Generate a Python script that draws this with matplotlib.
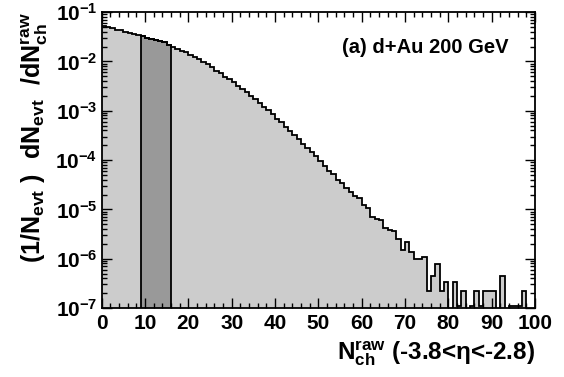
import numpy as np
import matplotlib
matplotlib.use("Agg")
import matplotlib.pyplot as plt
from matplotlib.ticker import MultipleLocator, LogLocator, FuncFormatter, NullFormatter

plt.rcParams['font.family'] = ['Liberation Sans', 'DejaVu Sans']
plt.rcParams['font.weight'] = 'bold'
plt.rcParams['mathtext.fontset'] = 'custom'
plt.rcParams['mathtext.rm'] = 'Liberation Sans:bold'
plt.rcParams['mathtext.it'] = 'Liberation Sans:bold'
plt.rcParams['mathtext.bf'] = 'Liberation Sans:bold'
plt.rcParams['mathtext.sf'] = 'Liberation Sans:bold'
plt.rcParams['mathtext.default'] = 'rm'

# raw multiplicity distribution, 1 bin per unit of N_ch
edges = np.arange(0, 101, 1)
dndn = [
    0.0520, 0.0490, 0.0467, 0.0438, 0.0426, 0.0393, 0.0375, 0.0363, 0.0342, 0.0322,
    0.0297, 0.0284, 0.0267, 0.0255, 0.0243, 0.0217, 0.0195, 0.0180, 0.0164, 0.0152,
    0.0136, 0.0121, 0.0110, 0.00983, 0.00871, 0.00757, 0.00646, 0.00572, 0.00488, 0.00432,
    0.00376, 0.00321, 0.00275, 0.00236, 0.00198, 0.00170, 0.00142, 0.00117, 0.00103, 8.43e-4,
    6.78e-4, 5.89e-4, 4.73e-4, 3.87e-4, 3.17e-4, 2.64e-4, 2.11e-4, 1.75e-4, 1.43e-4, 1.21e-4,
    9.55e-5, 7.56e-5, 5.90e-5, 5.28e-5, 3.93e-5, 3.37e-5, 2.67e-5, 2.28e-5, 1.84e-5, 1.67e-5,
    1.22e-5, 1.06e-5, 6.89e-6, 6.37e-6, 6.08e-6, 4.24e-6, 3.81e-6, 3.64e-6, 2.47e-6, 1.50e-6,
    2.15e-6, 1.35e-6, 9.85e-7, 9.85e-7, 1.08e-6, 2.2e-7, 4.4e-7, 7.7e-7, 2.2e-7, 3.3e-7,
    0, 3.3e-7, 1.1e-7, 2.2e-7, 0, 1.1e-7, 2.2e-7, 1.1e-7, 2.2e-7, 2.2e-7,
    2.2e-7, 0, 4.4e-7, 0, 1.1e-7, 1.1e-7, 1.1e-7, 2.2e-7, 0, 0,
]
band_lo, band_hi = 9, 16   # selected centrality bin (shaded)

vals = np.array(dndn)
vals = np.where(vals > 0, vals, 1e-9)   # empty bins drop out of the log axis
floor = 1e-9

fig = plt.figure(figsize=(5.64, 3.77), dpi=100)
ax = fig.add_axes([0.1803, 0.183, 0.7683, 0.785])

ax.stairs(vals, edges, fill=True, color='#cccccc', baseline=floor, zorder=1)
ax.stairs(vals[band_lo:band_hi], edges[band_lo:band_hi + 1], fill=True,
          color='#999999', baseline=floor, zorder=1.1)
ax.stairs(vals[band_lo:band_hi], edges[band_lo:band_hi + 1], fill=False,
          edgecolor='black', baseline=floor, lw=1.3, zorder=1.2)
ax.stairs(vals, edges, fill=False, edgecolor='black', baseline=None, lw=1.3, zorder=1.3)

ax.set_yscale('log')
ax.set_xlim(0, 100)
ax.set_ylim(1e-7, 1e-1)

ax.xaxis.set_major_locator(MultipleLocator(10))
ax.xaxis.set_minor_locator(MultipleLocator(2))
ax.yaxis.set_major_locator(LogLocator(base=10, numticks=20))
ax.yaxis.set_minor_locator(LogLocator(base=10, subs=np.arange(2, 10), numticks=20))
ax.yaxis.set_major_formatter(FuncFormatter(lambda v, p: r'$10^{%d}$' % round(np.log10(v))))
ax.yaxis.set_minor_formatter(NullFormatter())

ax.tick_params(which='both', direction='in', top=True, right=True, width=1.0, labelsize=15)
ax.tick_params(which='major', length=7)
ax.tick_params(which='minor', length=3.5)
ax.tick_params(axis='x', pad=4)
ax.tick_params(axis='y', pad=3)
for s in ax.spines.values():
    s.set_linewidth(1.3)
ax.set_axisbelow(False)

ax.set_xlabel(r'$N_{ch}^{raw}$ (-3.8<η<-2.8)', fontsize=17.5, fontweight='bold',
              loc='right', labelpad=5)
ax.set_ylabel(r'$(1/N_{evt}\ )\ \ dN_{evt}\ \ /dN_{ch}^{raw}$', fontsize=18,
              fontweight='bold', loc='top', labelpad=4)

ax.text(0.555, 0.88, '(a) d+Au 200 GeV', transform=ax.transAxes, fontsize=14.5,
        fontweight='bold', va='center', ha='left')

fig.savefig('out.png', dpi=100)
